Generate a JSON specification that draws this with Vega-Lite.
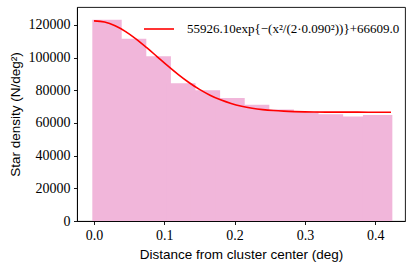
{
  "$schema": "https://vega.github.io/schema/vega-lite/v6.json",
  "width": 328,
  "height": 214,
  "autosize": {"type": "none"},
  "padding": {"left": 77, "top": 7, "right": 10, "bottom": 47},
  "config": {
    "view": {"stroke": "#000000", "strokeWidth": 0.9},
    "axis": {
      "grid": false,
      "domainColor": "#000000",
      "domainWidth": 0.9,
      "tickColor": "#000000",
      "tickWidth": 0.9,
      "tickSize": 3.5,
      "labelPadding": 3.5,
      "labelOverlap": false,
      "labelFont": "Liberation Serif",
      "labelFontSize": 14,
      "labelColor": "#000000",
      "titleFont": "Liberation Sans",
      "titleFontSize": 13.5,
      "titleFontWeight": "normal",
      "titleColor": "#000000"
    }
  },
  "datasets": {
    "bars": [
      {"x": -0.0024, "x2": 0.0394, "density": 123200},
      {"x": 0.0326, "x2": 0.0744, "density": 111600},
      {"x": 0.0676, "x2": 0.1094, "density": 100800},
      {"x": 0.1026, "x2": 0.1444, "density": 84300},
      {"x": 0.1376, "x2": 0.1794, "density": 80000},
      {"x": 0.1726, "x2": 0.2144, "density": 75300},
      {"x": 0.2076, "x2": 0.2494, "density": 71200},
      {"x": 0.2426, "x2": 0.2844, "density": 68200},
      {"x": 0.2776, "x2": 0.3194, "density": 66900},
      {"x": 0.3126, "x2": 0.3544, "density": 65400},
      {"x": 0.3476, "x2": 0.3894, "density": 64000},
      {"x": 0.3826, "x2": 0.4244, "density": 64900}
    ],
    "curve": [
      {"x": 0.0, "y": 122535},
      {"x": 0.015, "y": 121764},
      {"x": 0.03, "y": 119513},
      {"x": 0.045, "y": 115964},
      {"x": 0.06, "y": 111391},
      {"x": 0.075, "y": 106129},
      {"x": 0.09, "y": 100530},
      {"x": 0.105, "y": 94926},
      {"x": 0.12, "y": 89601},
      {"x": 0.135, "y": 84765},
      {"x": 0.15, "y": 80554},
      {"x": 0.165, "y": 77027},
      {"x": 0.18, "y": 74178},
      {"x": 0.195, "y": 71957},
      {"x": 0.21, "y": 70285},
      {"x": 0.225, "y": 69066},
      {"x": 0.24, "y": 68206},
      {"x": 0.255, "y": 67619},
      {"x": 0.27, "y": 67230},
      {"x": 0.285, "y": 66981},
      {"x": 0.3, "y": 66825},
      {"x": 0.33, "y": 66676},
      {"x": 0.36, "y": 66628},
      {"x": 0.39, "y": 66614},
      {"x": 0.4225, "y": 66609}
    ]
  },
  "layer": [
    {
      "data": {"name": "bars"},
      "mark": {"type": "bar", "color": "#f1b6da", "opacity": 1},
      "encoding": {
        "x": {
          "field": "x",
          "type": "quantitative",
          "scale": {"domain": [-0.0242, 0.4424], "nice": false, "zero": false},
          "axis": {
            "values": [0, 0.1, 0.2, 0.3, 0.4],
            "tickCount": 10,
            "format": ".1f",
            "title": "Distance from cluster center (deg)",
            "titlePadding": 5
          }
        },
        "x2": {"field": "x2"},
        "y": {
          "field": "density",
          "type": "quantitative",
          "scale": {"domain": [0, 131000], "nice": false},
          "axis": {
            "values": [0, 20000, 40000, 60000, 80000, 100000, 120000],
            "tickCount": 10,
            "format": "d",
            "title": "Star density (N/deg²)",
            "titleX": -62,
            "titleY": 107,
            "titleAngle": -90,
            "titleAlign": "center",
            "titleBaseline": "middle"
          }
        },
        "y2": {"datum": 0}
      }
    },
    {
      "data": {"name": "curve"},
      "mark": {"type": "line", "strokeWidth": 1.6, "interpolate": "monotone"},
      "encoding": {
        "x": {"field": "x", "type": "quantitative"},
        "y": {"field": "y", "type": "quantitative"},
        "color": {
          "datum": "55926.10exp{−(x²/(2·0.090²))}+66609.0",
          "type": "nominal",
          "scale": {"range": ["#ff0000"]},
          "legend": {
            "title": null,
            "orient": "none",
            "legendX": 66,
            "legendY": 6,
            "padding": 0,
            "symbolType": "stroke",
            "symbolSize": 900,
            "symbolStrokeWidth": 1.6,
            "labelFont": "Liberation Serif",
            "labelFontSize": 13,
            "labelColor": "#000000",
            "labelOffset": 12,
            "labelLimit": 400
          }
        }
      }
    }
  ]
}
